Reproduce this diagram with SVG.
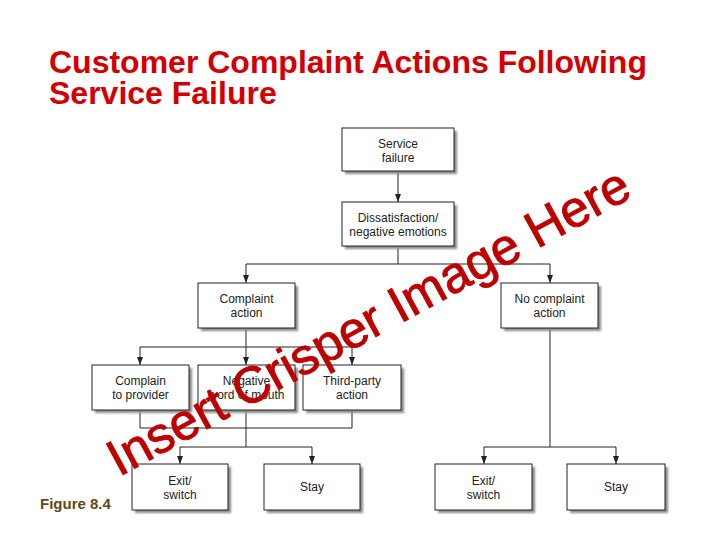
<svg xmlns="http://www.w3.org/2000/svg" width="720" height="540" viewBox="0 0 720 540">
<style>
.title{font-family:"Liberation Sans",Arial,sans-serif;font-weight:bold;font-size:32px;fill:#D40000}
.fig{font-family:"Liberation Sans",Arial,sans-serif;font-weight:bold;font-size:15px;fill:#5C4A14}
.box{fill:#fff;stroke:#222;stroke-width:1}
.shadow{fill:#8a8a8a;filter:url(#blur)}
.lbl{font-family:"Liberation Sans",Arial,sans-serif;font-size:12px;fill:#222;text-anchor:middle}
.con{fill:none;stroke:#222;stroke-width:1}
.wm{font-family:"Liberation Sans",Arial,sans-serif;font-size:51px;fill:#BE0000;stroke:#BE0000;stroke-width:0.9}
</style>
<defs>
<filter id="blur" x="-10%" y="-10%" width="130%" height="130%"><feGaussianBlur stdDeviation="1.2"/></filter>
<marker id="arr" markerUnits="userSpaceOnUse" markerWidth="8" markerHeight="6" refX="8" refY="3" orient="auto"><path d="M0,0 L8,3 L0,6 z" fill="#222"/></marker>
</defs>
<rect width="720" height="540" fill="#fff"/>
<text class="title" x="49" y="73">Customer Complaint Actions Following</text>
<text class="title" x="49" y="104">Service Failure</text>
<text class="fig" x="40" y="509">Figure 8.4</text>

<g id="connectors">
<path class="con" d="M398,171 V202" marker-end="url(#arr)"/>
<path class="con" d="M398,246 V264"/>
<path class="con" d="M246,264 H550"/>
<path class="con" d="M246,264 V283" marker-end="url(#arr)"/>
<path class="con" d="M550,264 V283" marker-end="url(#arr)"/>
<path class="con" d="M246,328 V347"/>
<path class="con" d="M140,347 H352"/>
<path class="con" d="M140,347 V365" marker-end="url(#arr)"/>
<path class="con" d="M246,347 V365" marker-end="url(#arr)"/>
<path class="con" d="M352,347 V365" marker-end="url(#arr)"/>
<path class="con" d="M140,410 V428 H352 V410"/>
<path class="con" d="M246,410 V447"/>
<path class="con" d="M180,447 H312"/>
<path class="con" d="M180,447 V464" marker-end="url(#arr)"/>
<path class="con" d="M312,447 V464" marker-end="url(#arr)"/>
<path class="con" d="M550,328 V447"/>
<path class="con" d="M484,447 H616"/>
<path class="con" d="M484,447 V464" marker-end="url(#arr)"/>
<path class="con" d="M616,447 V464" marker-end="url(#arr)"/>
</g>

<g id="service-failure">
<rect class="shadow" x="345" y="131" width="112" height="43"/>
<rect class="box" x="342" y="128" width="112" height="43"/>
<text class="lbl" x="398" y="148">Service</text>
<text class="lbl" x="398" y="162">failure</text>
</g>
<g id="dissatisfaction">
<rect class="shadow" x="345" y="205" width="112" height="44"/>
<rect class="box" x="342" y="202" width="112" height="44"/>
<text class="lbl" x="398" y="221.5">Dissatisfaction/</text>
<text class="lbl" x="398" y="235.5">negative emotions</text>
</g>
<g id="complaint-action">
<rect class="shadow" x="201" y="286" width="97" height="45"/>
<rect class="box" x="198" y="283" width="97" height="45"/>
<text class="lbl" x="246.5" y="303">Complaint</text>
<text class="lbl" x="246.5" y="317">action</text>
</g>
<g id="no-complaint-action">
<rect class="shadow" x="504" y="286" width="97" height="45"/>
<rect class="box" x="501" y="283" width="97" height="45"/>
<text class="lbl" x="549.5" y="303">No complaint</text>
<text class="lbl" x="549.5" y="317">action</text>
</g>
<g id="complain-to-provider">
<rect class="shadow" x="95" y="368" width="97" height="45"/>
<rect class="box" x="92" y="365" width="97" height="45"/>
<text class="lbl" x="140.5" y="385">Complain</text>
<text class="lbl" x="140.5" y="399">to provider</text>
</g>
<g id="negative-word-of-mouth">
<rect class="shadow" x="201" y="368" width="97" height="45"/>
<rect class="box" x="198" y="365" width="97" height="45"/>
<text class="lbl" x="246.5" y="385">Negative</text>
<text class="lbl" x="246.5" y="399">word of mouth</text>
</g>
<g id="third-party-action">
<rect class="shadow" x="306" y="368" width="98" height="45"/>
<rect class="box" x="303" y="365" width="98" height="45"/>
<text class="lbl" x="352" y="385">Third-party</text>
<text class="lbl" x="352" y="399">action</text>
</g>
<g id="exit-switch-1">
<rect class="shadow" x="135" y="467" width="96" height="46"/>
<rect class="box" x="132" y="464" width="96" height="46"/>
<text class="lbl" x="180" y="485">Exit/</text>
<text class="lbl" x="180" y="499">switch</text>
</g>
<g id="stay-1">
<rect class="shadow" x="267" y="467" width="96" height="46"/>
<rect class="box" x="264" y="464" width="96" height="46"/>
<text class="lbl" x="312" y="491">Stay</text>
</g>
<g id="exit-switch-2">
<rect class="shadow" x="438" y="467" width="97" height="46"/>
<rect class="box" x="435" y="464" width="97" height="46"/>
<text class="lbl" x="483.5" y="485">Exit/</text>
<text class="lbl" x="483.5" y="499">switch</text>
</g>
<g id="stay-2">
<rect class="shadow" x="570" y="467" width="98" height="46"/>
<rect class="box" x="567" y="464" width="98" height="46"/>
<text class="lbl" x="616" y="491">Stay</text>
</g>

<text class="wm" transform="translate(119,477) rotate(-28.6)">Insert Crisper Image Here</text>
</svg>
